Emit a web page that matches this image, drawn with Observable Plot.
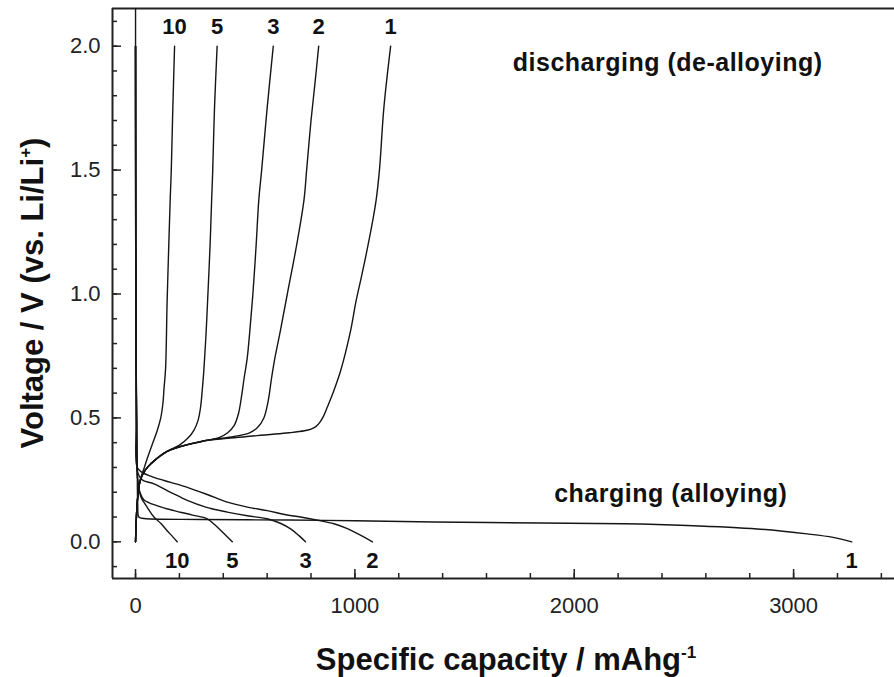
<!DOCTYPE html>
<html><head><meta charset="utf-8">
<script src="https://cdn.jsdelivr.net/npm/d3@7"></script>
<script src="https://cdn.jsdelivr.net/npm/@observablehq/plot@0.6"></script>
<style>body{margin:0;background:#fff} svg{display:block}</style>
</head><body><div id="chart"></div>
<script>
// Specific capacity (mAh/g) and voltage (V vs Li/Li+)
const charge1 = [[0,2.4],[1,1.0],[3,0.7],[6,0.5],[8,0.3],[10,0.15],[15,0.1],[30,0.095],[300,0.09],[700,0.088],[1000,0.085],[1360,0.08],[1850,0.076],[2225,0.073],[2515,0.066],[2834,0.052],[3062,0.032],[3180,0.018],[3265,0.0]];
const charge2 = [[0,2.0],[4,0.5],[8,0.3],[30,0.28],[84,0.26],[160,0.24],[236,0.22],[330,0.19],[418,0.16],[510,0.14],[600,0.126],[680,0.11],[752,0.1],[830,0.087],[904,0.073],[960,0.055],[996,0.04],[1040,0.02],[1080,0.0]];
const charge3 = [[0,2.0],[4,0.5],[10,0.28],[30,0.25],[84,0.234],[160,0.2],[236,0.167],[320,0.14],[418,0.12],[510,0.105],[600,0.093],[660,0.075],[707,0.052],[745,0.025],[775,0.0]];
const charge5 = [[0,2.0],[4,0.5],[10,0.25],[20,0.2],[38,0.17],[100,0.145],[175,0.126],[260,0.108],[327,0.093],[360,0.07],[390,0.045],[418,0.02],[441,0.0]];
const charge10 = [[0,2.0],[4,0.5],[10,0.25],[25,0.18],[38,0.16],[60,0.13],[84,0.1],[115,0.075],[143,0.046],[170,0.02],[190,0.0]];

const discharge1 = [[0,0.0],[4,0.1],[10,0.18],[22,0.25],[45,0.29],[70,0.315],[144,0.365],[300,0.405],[450,0.42],[600,0.432],[700,0.44],[770,0.448],[800,0.455],[822,0.465],[840,0.482],[856,0.505],[874,0.543],[904,0.61],[935,0.69],[980,0.85],[1005,0.97],[1030,1.07],[1056,1.18],[1080,1.29],[1097,1.38],[1112,1.5],[1132,1.75],[1163,2.0]];
const discharge2 = [[0,0.0],[4,0.1],[10,0.18],[22,0.25],[45,0.29],[70,0.315],[144,0.365],[300,0.405],[450,0.425],[520,0.44],[555,0.46],[585,0.5],[605,0.57],[620,0.66],[635,0.74],[660,0.85],[692,1.0],[735,1.2],[768,1.38],[780,1.5],[800,1.7],[818,1.85],[835,2.0]];
const discharge3 = [[0,0.0],[4,0.1],[10,0.18],[22,0.25],[45,0.29],[70,0.315],[144,0.365],[300,0.405],[380,0.42],[420,0.44],[450,0.47],[470,0.52],[482,0.58],[495,0.66],[509,0.74],[520,0.84],[535,1.0],[550,1.2],[562,1.38],[575,1.5],[600,1.75],[628,2.0]];
const discharge5 = [[0,0.0],[4,0.1],[10,0.18],[22,0.25],[45,0.29],[70,0.315],[144,0.365],[200,0.39],[240,0.42],[266,0.45],[285,0.49],[296,0.54],[305,0.62],[312,0.7],[322,0.85],[330,1.0],[340,1.2],[347,1.38],[352,1.5],[360,1.75],[372,2.0]];
const discharge10 = [[0,0.0],[4,0.1],[10,0.18],[22,0.25],[40,0.3],[55,0.34],[75,0.39],[99,0.449],[115,0.5],[125,0.56],[130,0.62],[137,0.7],[144,0.97],[150,1.15],[158,1.38],[163,1.5],[170,1.75],[178,2.0]];

const cycles = ["1","2","3","5","10"];
const chargeCurves = [charge1, charge2, charge3, charge5, charge10];
const dischargeCurves = [discharge1, discharge2, discharge3, discharge5, discharge10];

const xTicks = [0, 1000, 2000, 3000];
const xMinorTicks = d3.range(0, 3401, 200);
const yTicks = [0.0, 0.5, 1.0, 1.5, 2.0];
const yMinorTicks = d3.range(-1, 22).map(d => d / 10);
const xDomain = [-105, 3460];
const yDomain = [-0.148, 2.152];

const noteTexts = ["discharging (de-alloying)", "charging (alloying)"];
const noteCap = [2426, 2440];
const noteV = [1.934, 0.191];

// build tables
const rows = [];
cycles.forEach((c, i) => {
  chargeCurves[i].forEach(([cap, v]) => rows.push({id: "c" + c, cap, v}));
  dischargeCurves[i].forEach(([cap, v]) => rows.push({id: "d" + c, cap, v}));
});
const topEnds = cycles.map((c, i) => { const p = dischargeCurves[i][dischargeCurves[i].length - 1]; return {label: c, cap: p[0], v: p[1]}; });
const bottomEnds = cycles.map((c, i) => { const p = chargeCurves[i][chargeCurves[i].length - 1]; return {label: c, cap: p[0], v: p[1]}; });
const notes = noteTexts.map((t, i) => ({text: t, cap: noteCap[i], v: noteV[i]}));

const W = 894, H = 677, ML = 112, MR = 0, MT = 8, MB = 99;
const font = "'Liberation Sans', Arial, Helvetica, sans-serif";
const majorLen = 9, minorLen = 5;
// data units per pixel, from the layout, so tick lengths can be given in pixels
const xPerPx = (xDomain[1] - xDomain[0]) / (W - ML - MR);
const yPerPx = (yDomain[1] - yDomain[0]) / (H - MT - MB);

const chart = Plot.plot({
  width: W, height: H,
  marginLeft: ML, marginRight: MR, marginTop: MT, marginBottom: MB,
  x: {domain: xDomain},
  y: {domain: yDomain},
  style: {fontFamily: font, color: "#222", background: "#fff", overflow: "visible"},
  marks: [
    // inward ticks
    Plot.ruleX(xMinorTicks, {x: d => d, y1: yDomain[0], y2: yDomain[0] + minorLen * yPerPx, stroke: "#222", strokeWidth: 1.5}),
    Plot.ruleX(xTicks, {x: d => d, y1: yDomain[0], y2: yDomain[0] + majorLen * yPerPx, stroke: "#222", strokeWidth: 1.5}),
    Plot.ruleY(yMinorTicks, {y: d => d, x1: xDomain[0], x2: xDomain[0] + minorLen * xPerPx, stroke: "#222", strokeWidth: 1.5}),
    Plot.ruleY(yTicks, {y: d => d, x1: xDomain[0], x2: xDomain[0] + majorLen * xPerPx, stroke: "#222", strokeWidth: 1.5}),
    // tick labels
    Plot.axisX(xTicks, {tickSize: 0, tickPadding: 19, label: null, fontSize: 22, tickFormat: d => String(d)}),
    Plot.axisY(yTicks, {tickSize: 0, tickPadding: 12, label: null, fontSize: 22, tickFormat: d3.format(".1f")}),
    // frame (left, top, bottom)
    Plot.ruleY([yDomain[0], yDomain[1]], {stroke: "#222", strokeWidth: 2}),
    Plot.ruleX([xDomain[0]], {stroke: "#222", strokeWidth: 2}),
    Plot.line(rows, {x: "cap", y: "v", z: "id", stroke: "#151515", strokeWidth: 1.4, curve: "catmull-rom", clip: true}),
    Plot.text(topEnds, {x: "cap", y: "v", text: "label", dy: -19, fontSize: 22, fontWeight: "bold", fill: "#111"}),
    Plot.text(bottomEnds, {x: "cap", y: "v", text: "label", dy: 19, fontSize: 22, fontWeight: "bold", fill: "#111"}),
    Plot.text(notes, {x: "cap", y: "v", text: "text", fontSize: 25, fontWeight: "bold", fill: "#111"})
  ]
});

const svg = d3.select(chart);
svg.selectAll("text").filter(function(){ return /alloying/.test(this.textContent); }).attr("letter-spacing", "0.5px");

// axis titles
const xt = svg.append("text")
  .attr("x", ML + (W - ML - MR) / 2 + 3).attr("y", 670)
  .attr("text-anchor", "middle")
  .attr("font-family", font).attr("font-weight", "bold").attr("font-size", 31).attr("fill", "#111");
xt.append("tspan").text("Specific capacity / mAhg");
xt.append("tspan").attr("dy", -12).attr("font-size", 17).text("-1");

const yt = svg.append("text")
  .attr("transform", `translate(43,${MT + (H - MT - MB) / 2}) rotate(-90)`)
  .attr("text-anchor", "middle")
  .attr("font-family", font).attr("font-weight", "bold").attr("font-size", 31).attr("fill", "#111");
yt.append("tspan").text("Voltage / V (vs. Li/Li");
yt.append("tspan").attr("dy", -12).attr("font-size", 17).text("+");
yt.append("tspan").attr("dy", 12).text(")");

document.getElementById("chart").appendChild(chart);
</script>
</body></html>
